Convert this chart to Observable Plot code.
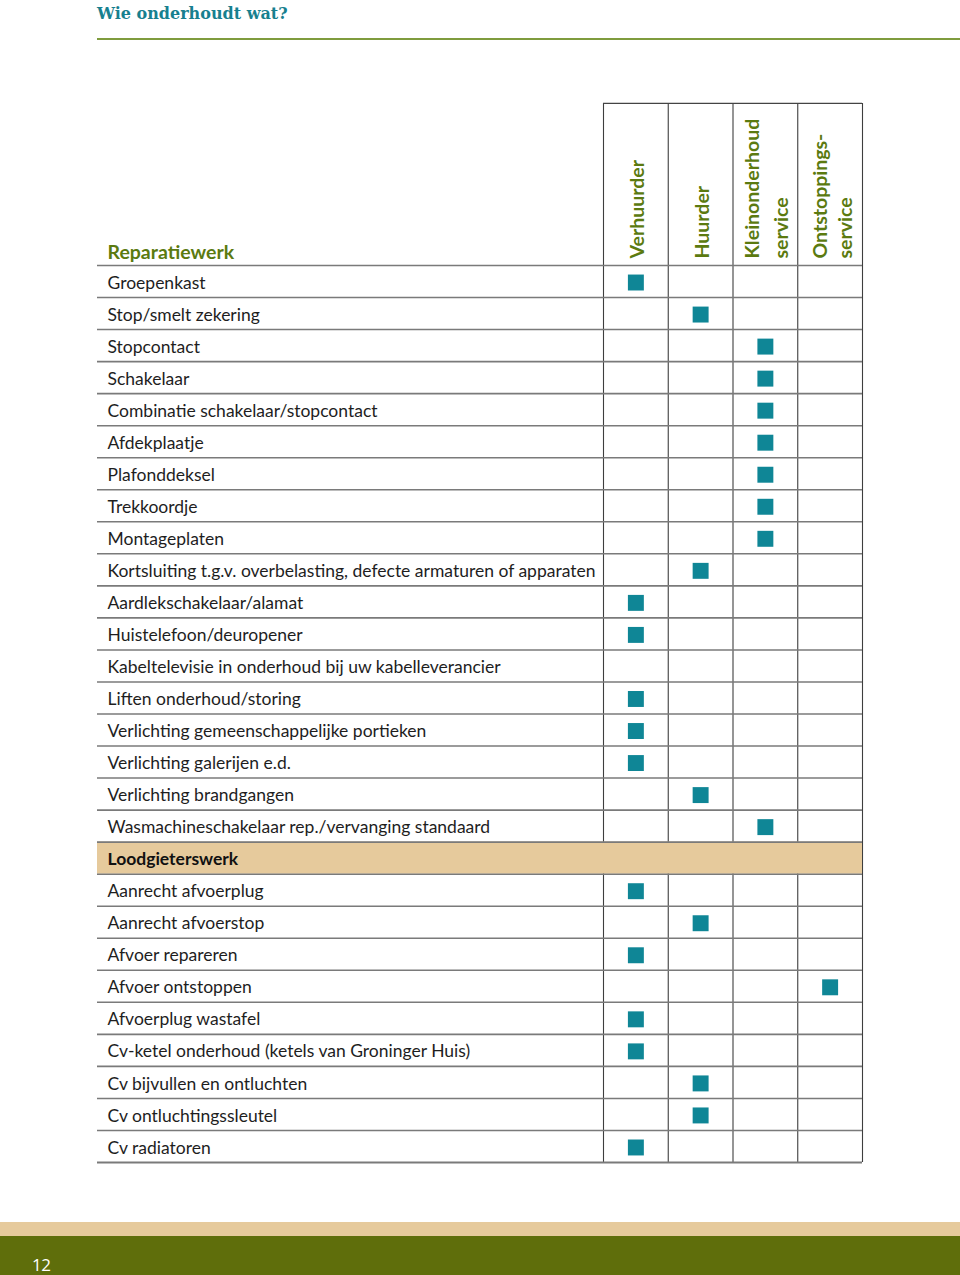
<!DOCTYPE html>
<html>
<head>
<meta charset="utf-8">
<script src="https://cdn.jsdelivr.net/npm/d3@7"></script>
<script src="https://cdn.jsdelivr.net/npm/@observablehq/plot@0.6"></script>
<style>
  html, body { margin: 0; padding: 0; background: #fff; }
  body { width: 960px; height: 1275px; overflow: hidden; }
  #title { position: relative; height: 50px; }
  #title .t { position: absolute; left: 97px; top: 4px; font: bold 16px "DejaVu Serif", serif; color: #17808f; }
  #title .line { position: absolute; left: 97px; right: 0; top: 38px; height: 2px; background: #7f9c3e; }
  #chart svg { display: block; }
  #footer .beige { height: 14px; background: #e6ca9c; }
  #footer .olive { position: relative; height: 39px; background: #5f6e0b; }
  #footer .olive span { position: absolute; left: 32px; top: 17px; font: 17px "Open Sans", sans-serif; color: #fff; letter-spacing: -0.5px; }
</style>
</head>
<body>
<div id="title"><div class="t">Wie onderhoudt wat?</div><div class="line"></div></div>
<div id="chart"></div>
<div id="footer"><div class="beige"></div><div class="olive"><span>12</span></div></div>
<script>
// Column headers (who maintains)
const columns = ["Verhuurder", "Huurder", "Kleinonderhoud\nservice", "Ontstoppings-\nservice"];
const firstSection = "Reparatiewerk";

// Table rows: label and responsible column ("" = none, "section" = section header row)
const rowLabels = [
  "Groepenkast",
  "Stop/smelt zekering",
  "Stopcontact",
  "Schakelaar",
  "Combinatie schakelaar/stopcontact",
  "Afdekplaatje",
  "Plafonddeksel",
  "Trekkoordje",
  "Montageplaten",
  "Kortsluiting t.g.v. overbelasting, defecte armaturen of apparaten",
  "Aardlekschakelaar/alamat",
  "Huistelefoon/deuropener",
  "Kabeltelevisie in onderhoud bij uw kabelleverancier",
  "Liften onderhoud/storing",
  "Verlichting gemeenschappelijke portieken",
  "Verlichting galerijen e.d.",
  "Verlichting brandgangen",
  "Wasmachineschakelaar rep./vervanging standaard",
  "Loodgieterswerk",
  "Aanrecht afvoerplug",
  "Aanrecht afvoerstop",
  "Afvoer repareren",
  "Afvoer ontstoppen",
  "Afvoerplug wastafel",
  "Cv-ketel onderhoud (ketels van Groninger Huis)",
  "Cv bijvullen en ontluchten",
  "Cv ontluchtingssleutel",
  "Cv radiatoren"
];
const rowResponsible = [
  "Verhuurder", "Huurder", "Kleinonderhoud\nservice", "Kleinonderhoud\nservice",
  "Kleinonderhoud\nservice", "Kleinonderhoud\nservice", "Kleinonderhoud\nservice",
  "Kleinonderhoud\nservice", "Kleinonderhoud\nservice", "Huurder",
  "Verhuurder", "Verhuurder", "", "Verhuurder", "Verhuurder", "Verhuurder",
  "Huurder", "Kleinonderhoud\nservice",
  "section",
  "Verhuurder", "Huurder", "Verhuurder", "Ontstoppings-\nservice", "Verhuurder",
  "Verhuurder", "Huurder", "Huurder", "Verhuurder"
];

// layout constants
const headerRows = 5.06;
const olive = "#5b7a10";
const teal = "#0f8696";

const rows = rowLabels.map((label, i) => ({label, i, who: rowResponsible[i], section: rowResponsible[i] === "section"}));
const marks = rows.filter(d => d.who && !d.section).map(d => ({i: d.i, c: columns.indexOf(d.who)}));
const colIdx = columns.map((c, k) => ({c, k}));
const boundaries = d3.range(rows.length + 1);
const colBoundaries = d3.range(columns.length + 1);

const plot = Plot.plot({
  width: 960,
  height: 1172,
  marginLeft: 97,
  marginRight: 98,
  marginTop: 53,
  marginBottom: 60,
  x: {domain: [0, columns.length], range: [603, 862], axis: null},
  y: {domain: [0, rows.length], range: [215, 1112], axis: null},
  style: {fontFamily: "Lato, sans-serif", background: "white"},
  marks: [
    // vertical lines
    Plot.ruleX(colBoundaries, {x: d => d, y1: -headerRows, y2: rows.length, stroke: "#3e3e3e", strokeWidth: 1.1}),
    // section band (covers the vertical lines)
    Plot.rect(rows.filter(d => d.section), {y1: d => d.i, y2: d => d.i + 1, fill: "#e6ca9c"}),
    // horizontal lines
    Plot.ruleY(boundaries.filter(d => d < rows.length), {y: d => d, stroke: "#7a7a7a", strokeWidth: 1.6}),
    Plot.ruleY([rows.length], {y: d => d, stroke: "#7a7a7a", strokeWidth: 2.2}),
    // header top line
    Plot.ruleY([-headerRows], {x1: 0, x2: columns.length, stroke: "#444", strokeWidth: 1.2}),
    // markers
    Plot.dot(marks, {x: d => d.c + 0.5, y: d => d.i + 0.5, symbol: "square", r: 9.0, fill: teal, stroke: "none", dy: 1}),
    // row labels
    Plot.text(rows.filter(d => !d.section), {
      y: d => d.i + 0.5, text: "label", frameAnchor: "left", textAnchor: "start", dx: 10, dy: 1.5,
      fontSize: 17.5, fill: "#1e1e1e"
    }),
    Plot.text(rows.filter(d => d.section), {
      y: d => d.i + 0.5, text: "label", frameAnchor: "left", textAnchor: "start", dx: 10, dy: 1.5,
      fontSize: 17.5, fill: "#111", fontWeight: "bold"
    }),
    // first section label
    Plot.text([firstSection], {
      y: 0, text: d => d, frameAnchor: "left", textAnchor: "start", dx: 10, dy: -13,
      fontSize: 19.5, fontWeight: "bold", fill: olive
    }),
    // column headers
    Plot.text(colIdx.filter(d => d.k < 3), {
      x: d => d.k + 0.5, y: 0, text: "c", rotate: -90, textAnchor: "start", dy: -7, dx: -1,
      fontSize: 19.5, fontWeight: "bold", fill: olive, lineHeight: 1.5
    }),
    Plot.text(colIdx.filter(d => d.k === 3), {
      x: d => d.k + 0.5, y: 0, text: "c", rotate: -90, textAnchor: "start", dy: -7, dx: 1,
      fontSize: 19.5, fontWeight: "bold", fill: olive, lineHeight: 1.3
    })
  ]
});
document.getElementById("chart").appendChild(plot);
</script>
</body>
</html>
